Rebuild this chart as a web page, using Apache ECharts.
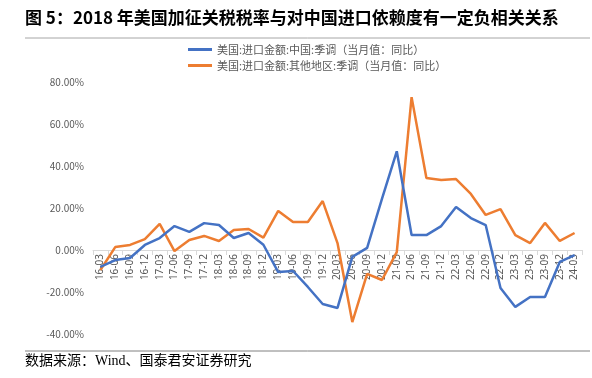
<!DOCTYPE html>
<html><head><meta charset="utf-8">
<script src="https://cdn.jsdelivr.net/npm/echarts@6/dist/echarts.min.js"></script>
<style>html,body{margin:0;padding:0;background:#fff}#c{width:592px;height:378px}</style>
</head><body><div id="c"></div>
<script>
const categories = ['16-03','16-06','16-09','16-12','17-03','17-06','17-09','17-12','18-03','18-06','18-09','18-12','19-03','19-06','19-09','19-12','20-03','20-06','20-09','20-12','21-03','21-06','21-09','21-12','22-03','22-06','22-09','22-12','23-03','23-06','23-09','23-12','24-03'];
const chinaImports = [-8.0,-4.8,-3.8,2.4,5.7,11.4,8.6,12.8,11.9,5.7,8.1,2.5,-10.5,-10.0,-17.6,-25.7,-27.6,-3.3,1.0,24.3,47.0,7.1,7.1,11.4,20.5,15.2,11.9,-18.1,-27.1,-22.4,-22.4,-5.7,-2.4];
const otherImports = [-9.5,1.4,2.4,5.2,12.4,-0.5,4.8,6.7,4.3,9.5,10.0,5.9,18.6,13.3,13.3,23.3,3.3,-34.3,-11.4,-14.3,-1.0,72.8,34.3,33.3,33.8,26.7,16.7,19.5,7.1,3.3,12.9,4.3,8.1];
const seriesNames = ['美国:进口金额:中国:季调（当月值：同比）','美国:进口金额:其他地区:季调（当月值：同比）'];
const titleText = '图 5：2018 年美国加征关税税率与对中国进口依赖度有一定负相关关系';
const sourceText = '数据来源：Wind、国泰君安证券研究';

const chart = echarts.init(document.getElementById('c'), null, {renderer:'canvas'});
chart.setOption({
  animation:false,
  backgroundColor:'#fff',
  graphic:[
    {type:'text',left:25,top:9,style:{text:titleText,font:'bold 17px "Noto Sans CJK SC", sans-serif',fill:'#000'}},
    {type:'line',shape:{x1:25,y1:38,x2:590,y2:38},style:{stroke:'#a6a6a6',lineWidth:1}},
    {type:'line',shape:{x1:25,y1:351,x2:590,y2:351},style:{stroke:'#808080',lineWidth:1}},
    {type:'text',left:25,top:354,style:{text:sourceText,font:'14px "Liberation Serif", "Noto Sans CJK SC", serif',fill:'#000'}}
  ],
  legend:{
    orient:'vertical',left:183,top:39,itemGap:5,itemWidth:24,itemHeight:3,icon:'rect',
    textStyle:{fontSize:11,color:'#595959',fontFamily:'"Noto Sans CJK SC", sans-serif'},
    data:seriesNames
  },
  grid:{left:93,right:10,top:82,height:252},
  xAxis:{
    type:'category',data:categories,boundaryGap:true,position:'bottom',offset:-84,
    axisLine:{onZero:false,lineStyle:{color:'#d9d9d9'}},
    axisTick:{show:true,length:5,lineStyle:{color:'#d9d9d9'}},
    axisLabel:{rotate:90,fontSize:10,color:'#595959',interval:0,margin:4,fontFamily:'"Noto Sans", sans-serif'}
  },
  yAxis:{
    type:'value',min:-40,max:80,interval:20,
    splitLine:{show:false},axisLine:{show:false},axisTick:{show:false},
    axisLabel:{fontSize:10,color:'#595959',margin:9,formatter:v=>v.toFixed(2)+'%',fontFamily:'"Noto Sans CJK SC", sans-serif'}
  },
  series:[
    {name:seriesNames[0],type:'line',data:chinaImports,symbol:'none',z:3,lineStyle:{width:2.5,color:'#4472C4'},itemStyle:{color:'#4472C4'}},
    {name:seriesNames[1],type:'line',data:otherImports,symbol:'none',z:2,lineStyle:{width:2.5,color:'#ED7D31'},itemStyle:{color:'#ED7D31'}}
  ]
});
</script></body></html>
